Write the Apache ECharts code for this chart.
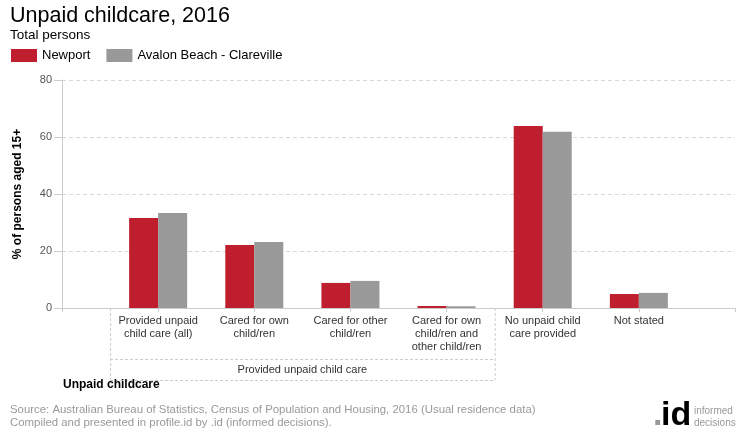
<!DOCTYPE html>
<html>
<head>
<meta charset="utf-8">
<script src="https://cdn.jsdelivr.net/npm/echarts@6/dist/echarts.min.js"></script>
<style>html,body{margin:0;padding:0;background:#fff}#c{width:740px;height:440px}</style>
</head>
<body>
<div id="c"></div>
<script>
var categories = ['', 'Provided unpaid\nchild care (all)', 'Cared for own\nchild/ren', 'Cared for other\nchild/ren', 'Cared for own\nchild/ren and\nother child/ren', 'No unpaid child\ncare provided', 'Not stated', ' '];
var newport = ['-', 31.6, 22.1, 8.8, 0.7, 63.9, 4.9, '-'];
var avalon = ['-', 33.3, 23.2, 9.5, 0.6, 61.8, 5.3, '-'];
var yTicks = [0, 20, 40, 60, 80];
var groupLabel = 'Provided unpaid child care';
var groupFirst = 1, groupLast = 4;

var FONT = '"Liberation Sans", Arial, sans-serif';
var chart = echarts.init(document.getElementById('c'), null, {renderer: 'canvas'});
var option = {
  animation: false,
  textStyle: {fontFamily: FONT},
  title: {
    text: 'Unpaid childcare, 2016',
    subtext: 'Total persons',
    left: 5, top: 0,
    itemGap: 1,
    textStyle: {fontSize: 21.5, fontWeight: 'normal', color: '#000', fontFamily: FONT},
    subtextStyle: {fontSize: 13.5, color: '#000', fontFamily: FONT}
  },
  legend: {
    left: 6, top: 44,
    itemWidth: 26, itemHeight: 13, itemGap: 16,
    icon: 'rect',
    textStyle: {fontSize: 13, color: '#000', fontFamily: FONT},
    data: ['Newport', 'Avalon Beach - Clareville']
  },
  grid: {left: 62, right: 5, top: 80, bottom: 132, containLabel: false},
  xAxis: {
    type: 'category',
    data: categories,
    boundaryGap: false,
    axisLine: {lineStyle: {color: '#ccc'}},
    axisTick: {show: true, length: 4, interval: 0, lineStyle: {color: '#ccc'}},
    axisLabel: {interval: 0, margin: 6, fontSize: 11, lineHeight: 13, color: '#333', fontFamily: FONT},
    splitLine: {show: false}
  },
  yAxis: {
    type: 'value',
    min: yTicks[0], max: yTicks[yTicks.length - 1], interval: 20,
    name: '% of persons aged 15+',
    nameLocation: 'middle',
    nameGap: 38,
    nameTextStyle: {fontSize: 12, fontWeight: 'bold', color: '#000', fontFamily: FONT},
    axisLine: {show: true, lineStyle: {color: '#ccc'}},
    axisTick: {show: true, length: 8, lineStyle: {color: '#ccc'}},
    axisLabel: {margin: 10, fontSize: 11, color: '#555', fontFamily: FONT},
    splitLine: {lineStyle: {color: '#d8d8d8', type: [4, 3]}}
  },
  series: [
    {name: 'Newport', type: 'bar', data: newport, barWidth: 29, barGap: '0%', itemStyle: {color: '#BE1E2D'}},
    {name: 'Avalon Beach - Clareville', type: 'bar', data: avalon, barWidth: 29, barGap: '0%', itemStyle: {color: '#999999'}}
  ]
};
chart.setOption(option);

var px = function (i) { return chart.convertToPixel({xAxisIndex: 0}, categories[i]); };
var y0 = chart.convertToPixel({yAxisIndex: 0}, 0);
var gx0 = (px(groupFirst - 1) + px(groupFirst)) / 2;
var gx1 = (px(groupLast) + px(groupLast + 1)) / 2;
var gMid = y0 + 51, gBot = y0 + 72;
var dash = {stroke: '#ccc', lineWidth: 1, lineDash: [3, 2]};
chart.setOption({
  graphic: [
    {type: 'line', shape: {x1: gx0 + 0.5, y1: y0, x2: gx0 + 0.5, y2: gBot}, style: dash, silent: true},
    {type: 'line', shape: {x1: gx1 + 0.5, y1: y0, x2: gx1 + 0.5, y2: gBot}, style: dash, silent: true},
    {type: 'line', shape: {x1: gx0, y1: gMid + 0.5, x2: gx1, y2: gMid + 0.5}, style: dash, silent: true},
    {type: 'line', shape: {x1: gx0, y1: gBot + 0.5, x2: gx1, y2: gBot + 0.5}, style: dash, silent: true},
    {type: 'text', x: (gx0 + gx1) / 2, y: (gMid + gBot) / 2, style: {text: groupLabel, fill: '#333', font: '11px ' + FONT, textAlign: 'center', textVerticalAlign: 'middle'}},
    {type: 'text', x: 63, y: 379, style: {text: 'Unpaid childcare', fill: '#000', font: 'bold 12px ' + FONT}},
    {type: 'text', x: 10, y: 403, style: {text: 'Source: Australian Bureau of Statistics, Census of Population and Housing, 2016 (Usual residence data)\nCompiled and presented in profile.id by .id (informed decisions).', fill: '#999', font: '11.4px ' + FONT, lineHeight: 13}},
    {type: 'text', x: 653, y: 399, style: {text: '.', fill: '#999', font: 'bold 34px ' + FONT}},
    {type: 'text', x: 661, y: 399, style: {text: 'id', fill: '#000', font: 'bold 34px ' + FONT}},
    {type: 'text', x: 694, y: 405, style: {text: 'informed\ndecisions', fill: '#999', font: '10px ' + FONT, lineHeight: 12}}
  ]
});
</script>
</body>
</html>
